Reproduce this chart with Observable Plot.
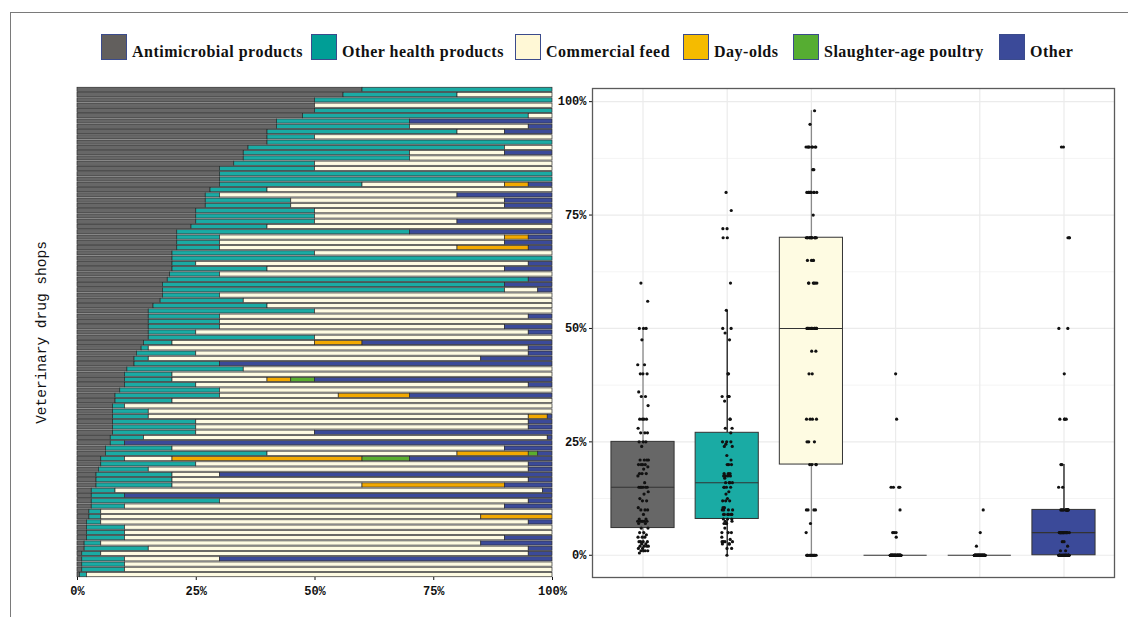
<!DOCTYPE html>
<html>
<head>
<meta charset="utf-8">
<script src="https://cdn.jsdelivr.net/npm/d3@7"></script>
<script src="https://cdn.jsdelivr.net/npm/@observablehq/plot@0.6"></script>
<style>
  body { margin: 0; background: #fff; }
  #wrap { position: relative; width: 1128px; height: 617px; overflow: hidden; background: #fff;
          font-family: "Liberation Mono", monospace; color: #111; }
  #frame { position: absolute; left: 10px; top: 12px; width: 1140px; height: 640px;
           border-top: 1.5px solid #7a7a7a; border-left: 1.5px solid #7a7a7a; }
  #legend { position: absolute; top: 34px; left: 101px; display: flex; align-items: flex-end;
            font-family: "Liberation Serif", serif; font-size: 16px; font-weight: bold;
            letter-spacing: 0.5px; white-space: nowrap; line-height: 16px; }
  .item { display: flex; align-items: flex-end; flex: none; }
  .sw { width: 26px; height: 26px; box-sizing: border-box; border: 1px solid #3b4b8c; margin-right: 5px; flex: none; }
  .item span { position: relative; top: 0px; }
  #left { position: absolute; left: 0; top: 80px; }
  #right { position: absolute; left: 550px; top: 80px; }
</style>
</head>
<body>
<div id="wrap">
  <div id="frame"></div>
  <div id="legend"></div>
  <div id="left"></div>
  <div id="right"></div>
</div>
<script>
// ---- categories & colours ----
const categories = ["Antimicrobial products", "Other health products", "Commercial feed", "Day-olds", "Slaughter-age poultry", "Other"];
const barColors = ["#676767", "#1aaba4", "#fefbe2", "#f2a900", "#5aae2e", "#3b4a99"];
const legendColors = ["#625f5d", "#009e96", "#fff8d6", "#f5bb00", "#56ad32", "#3b4a99"];
const legendItemWidths = [210, 204, 168, 110, 206, 80];
const whiskerColors = ["#8a8a8a", "#1a1a1a", "#8a8a8a", "#333333", "#333333", "#1a1a1a"];
const pctTicks = [0, 0.25, 0.5, 0.75, 1];
const pctLabels = ["0%", "25%", "50%", "75%", "100%"];

// ---- share (%) of each shop's sales, 93 shops, top to bottom ----
const antimicrobial = [60,56,50,50,50,47.5,42,42,40,40,40,36,35,35,33,30,30,30,30,28,27,27,27,25,25,25,24,21,21,21,21,20,20,20,20,19.5,19,18,18,18,17.5,16,15,15,15,15,15,15,14,13.5,12.5,12,12,10.5,10,10,10,9,8,8,7.5,7.5,7.5,7.5,7.5,7.5,7,7,6,6,5,5,4.5,4,4,4,3,3,3,3,2.5,2.5,2,2,2,2,1.5,1.5,1,1,1,1,0.5];
const otherHealth = [40,24,50,0,50,47.5,28,28,40,10,60,54,35,35,17,20,70,70,30,12,3,18,18,25,25,25,16,49,9,9,9,30,80,5,20,10.5,76,72,72,12,17.5,24,35,15,15,15,10,35,6,1.5,12.5,3,18,24.5,10,10,15,21,22,12,2.5,7.5,7.5,17.5,17.5,17.5,7,3,14,34,5,20,10.5,16,16,16,5,7,27,7,2.5,2.5,3,8,8,8,3.5,13.5,4,9,9,9,1.5];
const commercialFeed = [0,20,0,50,0,5,0,25,10,50,0,10,20,30,50,50,0,0,30,60,50,45,45,50,50,30,60,0,60,60,50,50,0,70,50,70,0,0,7,70,65,60,50,65,70,60,70,50,30,80,70,70,0,65,80,20,70,70,25,80,90,85,80,70,70,25,85,0,70,40,10,70,80,10,75,40,90,0,65,80,95,80,90,90,90,80,80,80,90,20,90,90,98];
const dayOlds = [0,0,0,0,0,0,0,0,0,0,0,0,0,0,0,0,0,0,5,0,0,0,0,0,0,0,0,0,5,0,15,0,0,0,0,0,0,0,0,0,0,0,0,0,0,0,0,0,10,0,0,0,0,0,0,5,0,0,15,0,0,0,4,0,0,0,0,0,0,15,40,0,0,0,0,30,0,0,0,0,0,15,0,0,0,0,0,0,0,0,0,0,0];
const slaughter = [0,0,0,0,0,0,0,0,0,0,0,0,0,0,0,0,0,0,0,0,0,0,0,0,0,0,0,0,0,0,0,0,0,0,0,0,0,0,0,0,0,0,0,0,0,0,0,0,0,0,0,0,0,0,0,5,0,0,0,0,0,0,0,0,0,0,0,0,0,2,10,0,0,0,0,0,0,0,0,0,0,0,0,0,0,0,0,0,0,0,0,0,0];
const other = [0,0,0,0,0,0,30,5,10,0,0,0,10,0,0,0,0,0,5,0,20,10,10,0,0,20,0,30,5,10,5,0,0,5,10,0,5,10,3,0,0,0,0,5,0,10,5,0,40,5,5,15,70,0,0,50,5,0,30,0,0,0,1,5,5,50,1,90,10,3,30,5,5,70,5,10,2,90,5,10,0,0,5,0,0,10,15,5,5,70,0,0,0];

const series = [antimicrobial, otherHealth, commercialFeed, dayOlds, slaughter, other];
const shops = d3.range(1, antimicrobial.length + 1);

// ---- legend ----
const legend = document.getElementById("legend");
categories.forEach((c, j) => {
  const it = document.createElement("div"); it.className = "item";
  it.style.width = legendItemWidths[j] + "px";
  const sw = document.createElement("div"); sw.className = "sw"; sw.style.background = legendColors[j];
  const tx = document.createElement("span"); tx.textContent = c;
  it.appendChild(sw); it.appendChild(tx); legend.appendChild(it);
});

// ---- left: stacked 100% bars per shop ----
const long = [];
shops.forEach((s, i) => categories.forEach((c, j) => {
  const v = series[j][i];
  if (v > 0) long.push({shop: s, category: c, value: v});
}));

const left = Plot.plot({
  width: 578, height: 530,
  marginLeft: 77, marginRight: 26, marginTop: 7, marginBottom: 33,
  style: {fontFamily: "Liberation Mono, monospace", fontSize: "12px", fontWeight: "bold", color: "#111", background: "transparent"},
  x: {domain: [0, 1], ticks: pctTicks, tickFormat: (d, i) => pctLabels[i], label: null, tickSize: 3},
  y: {domain: shops, axis: null, paddingInner: 0.2, paddingOuter: 0.05, round: false},
  color: {domain: categories, range: barColors},
  marks: [
    Plot.barX(long, Plot.stackX({y: "shop", x: "value", fill: "category", order: categories, offset: "normalize",
      stroke: "#2b2b2b", strokeWidth: 0.7})),
    Plot.text(["Veterinary drug shops"], {frameAnchor: "left", textAnchor: "middle", rotate: -90, dx: -36,
      fontSize: 14.5, fontWeight: "normal", fill: "#111"})
  ]
});
document.getElementById("left").appendChild(left);

// ---- right: box plots with jittered points ----
const pts = [];
const stats = categories.map((c, j) => {
  const vals = series[j].map(v => v / 100);
  vals.forEach((v, i) => pts.push({cat: c, idx: j + 1, value: v, k: i}));
  const s = vals.slice().sort(d3.ascending);
  const q1 = d3.quantileSorted(s, 0.25), med = d3.quantileSorted(s, 0.5), q3 = d3.quantileSorted(s, 0.75);
  const iqr = q3 - q1;
  const hi = d3.max(s.filter(v => v <= q3 + 1.5 * iqr));
  const lo = d3.min(s.filter(v => v >= q1 - 1.5 * iqr));
  return {cat: c, idx: j + 1, q1, med, q3, hi, lo, wc: whiskerColors[j]};
});
// deterministic horizontal jitter (display offset only)
const jit = d => (((d.k * 0.6180339887 + d.idx * 0.31) % 1) - 0.5) * 0.13;

const right = Plot.plot({
  width: 572, height: 520,
  marginLeft: 42, marginRight: 8, marginTop: 8, marginBottom: 23,
  style: {fontFamily: "Liberation Mono, monospace", fontSize: "12px", fontWeight: "bold", color: "#111", background: "transparent"},
  x: {type: "linear", domain: [0.4, 6.6], axis: null},
  y: {domain: [-0.049, 1.029], ticks: pctTicks, tickFormat: (d, i) => pctLabels[i], label: null, tickSize: 3, tickPadding: 3},
  color: {domain: categories, range: barColors},
  marks: [
    Plot.gridY([0.125, 0.375, 0.625, 0.875], {stroke: "#f4f4f4", strokeOpacity: 1, strokeWidth: 1}),
    Plot.gridY(pctTicks, {stroke: "#ebebeb", strokeOpacity: 1, strokeWidth: 1.2}),
    Plot.gridX(d3.range(1, 7), {stroke: "#ebebeb", strokeOpacity: 1, strokeWidth: 1.2}),
    Plot.ruleX(stats.filter(d => d.hi > d.q3), {x: "idx", y1: "q3", y2: "hi", stroke: "wc", strokeWidth: 1.3}),
    Plot.ruleX(stats.filter(d => d.lo < d.q1), {x: "idx", y1: "lo", y2: "q1", stroke: "wc", strokeWidth: 1.3}),
    Plot.rect(stats, {x1: d => d.idx - 0.375, x2: d => d.idx + 0.375, y1: "q1", y2: "q3", fill: "cat", stroke: "#333", strokeWidth: 1}),
    Plot.ruleY(stats, {x1: d => d.idx - 0.375, x2: d => d.idx + 0.375, y: "med", stroke: "#333", strokeWidth: 1.1}),
    Plot.dot(pts, {x: d => d.idx + jit(d), y: "value", r: 1.6, fill: "#111", stroke: "none"}),
    Plot.frame({stroke: "#5a5a5a", strokeWidth: 1.3})
  ]
});
document.getElementById("right").appendChild(right);
</script>
</body>
</html>
